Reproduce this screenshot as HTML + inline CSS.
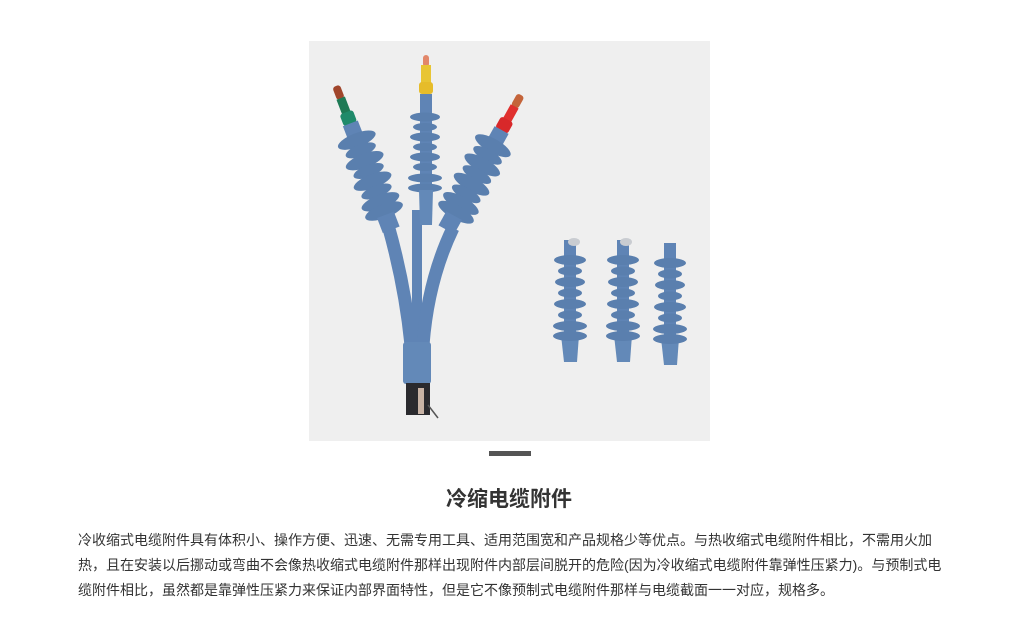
<!DOCTYPE html>
<html><head><meta charset="utf-8"><style>
html,body{margin:0;padding:0;background:#fff;width:1018px;height:639px;overflow:hidden;position:relative;font-family:"Liberation Sans","Noto Sans CJK SC",sans-serif;}
#img{position:absolute;left:309px;top:41px;width:401px;height:400px;background:#efefef;}
#bar{position:absolute;left:489px;top:451px;width:42px;height:5px;background:#555;}
h1{position:absolute;left:0;width:1018px;top:485px;margin:0;text-align:center;font-size:21px;font-weight:bold;color:#333;line-height:30px;}
p{position:absolute;left:78px;top:528px;margin:0;font-size:14px;line-height:25px;color:#333;white-space:nowrap;}
</style></head><body>
<div id="img"></div>
<svg width="1018" height="639" style="position:absolute;left:0;top:0">
<defs>
<g id="smallins">
  <rect x="-6" y="0" width="12" height="100" fill="#5f84b5"/>
  <path d="M-9,95 L9,95 L7,122 L-6,122 Z" fill="#6389b8"/>
  <ellipse cx="0" cy="20" rx="16" ry="5" fill="#5a7fae"/>
  <ellipse cx="0" cy="31" rx="12" ry="4.5" fill="#5a7fae"/>
  <ellipse cx="0" cy="42" rx="15" ry="5" fill="#5a7fae"/>
  <ellipse cx="0" cy="53" rx="12" ry="4.5" fill="#5a7fae"/>
  <ellipse cx="0" cy="64" rx="16" ry="5" fill="#5a7fae"/>
  <ellipse cx="0" cy="75" rx="12" ry="4.5" fill="#5a7fae"/>
  <ellipse cx="0" cy="86" rx="17" ry="5" fill="#5a7fae"/>
  <ellipse cx="0" cy="96" rx="17" ry="5" fill="#5a7fae"/>
</g>
<g id="ridges">
  <rect x="-8" y="40" width="16" height="110" fill="#5f84b5"/>
  <ellipse cx="0" cy="58" rx="20" ry="7" fill="#5a7fae"/>
  <ellipse cx="0" cy="69" rx="16" ry="6" fill="#5a7fae"/>
  <ellipse cx="0" cy="80" rx="20" ry="7" fill="#5a7fae"/>
  <ellipse cx="0" cy="91" rx="16" ry="6" fill="#5a7fae"/>
  <ellipse cx="0" cy="102" rx="20" ry="7" fill="#5a7fae"/>
  <ellipse cx="0" cy="113" rx="16" ry="6" fill="#5a7fae"/>
  <ellipse cx="0" cy="124" rx="20" ry="7" fill="#5a7fae"/>
  <ellipse cx="0" cy="134" rx="20" ry="7" fill="#5a7fae"/>
  <rect x="-9" y="138" width="18" height="16" fill="#5f84b5"/>
</g>
</defs>
<!-- tubes -->
<path d="M388,225 Q405,285 411,345" stroke="#5f84b5" stroke-width="13" fill="none"/>
<path d="M417,210 L417,345" stroke="#5f84b5" stroke-width="10" fill="none"/>
<path d="M453,228 Q428,280 423,345" stroke="#5f84b5" stroke-width="13" fill="none"/>
<!-- left arm -->
<g transform="translate(336,86) rotate(-21)">
  <rect x="-4" y="0" width="8" height="14" rx="3" fill="#a0452b"/>
  <rect x="-4.5" y="13" width="9" height="20" fill="#1e7a55"/>
  <rect x="-7" y="28" width="14" height="13" rx="3" fill="#1f8a6a"/>
  <use href="#ridges"/>
</g>
<!-- middle arm -->
<g transform="translate(426,55)">
  <rect x="-3" y="0" width="6" height="12" rx="3" fill="#e2876a"/>
  <rect x="-5" y="10" width="10" height="20" fill="#e8c534"/>
  <rect x="-7" y="27" width="14" height="12" rx="3" fill="#e6bc2a"/>
  <rect x="-6" y="39" width="12" height="130" fill="#5f84b5"/>
  <ellipse cx="-1" cy="62" rx="15" ry="4.5" fill="#5a7fae"/>
  <ellipse cx="-1" cy="72" rx="12" ry="4" fill="#5a7fae"/>
  <ellipse cx="-1" cy="82" rx="15" ry="4.5" fill="#5a7fae"/>
  <ellipse cx="-1" cy="92" rx="12" ry="4" fill="#5a7fae"/>
  <ellipse cx="-1" cy="102" rx="15" ry="4.5" fill="#5a7fae"/>
  <ellipse cx="-1" cy="112" rx="12" ry="4" fill="#5a7fae"/>
  <ellipse cx="-1" cy="123" rx="17" ry="4.5" fill="#5a7fae"/>
  <ellipse cx="-1" cy="133" rx="17" ry="4.5" fill="#5a7fae"/>
  <path d="M-7,135 L7,135 L6,170 L-6,170 Z" fill="#6389b8"/>
</g>
<!-- right arm -->
<g transform="translate(521,95) rotate(29)">
  <rect x="-4" y="0" width="8" height="14" rx="3" fill="#c4643a"/>
  <rect x="-4.5" y="13" width="9" height="20" fill="#e0302e"/>
  <rect x="-7" y="28" width="14" height="13" rx="3" fill="#d8282a"/>
  <use href="#ridges"/>
</g>
<!-- boot & cable -->
<rect x="403" y="342" width="28" height="42" rx="3" fill="#6389b8"/>
<rect x="406" y="383" width="24" height="32" fill="#2a2a2e"/>
<rect x="418" y="388" width="6" height="26" fill="#c8b3a5"/>
<line x1="428" y1="405" x2="438" y2="418" stroke="#555" stroke-width="1.5"/>
<!-- small insulators -->
<use href="#smallins" transform="translate(570,240)"/>
<use href="#smallins" transform="translate(623,240)"/>
<use href="#smallins" transform="translate(670,243)"/>
<ellipse cx="574" cy="242" rx="6" ry="4" fill="#c9ccd1"/>
<ellipse cx="626" cy="242" rx="6" ry="4" fill="#c9ccd1"/>
</svg>
<div id="bar"></div>
<h1>冷缩电缆附件</h1>
<p>冷收缩式电缆附件具有体积小、操作方便、迅速、无需专用工具、适用范围宽和产品规格少等优点。与热收缩式电缆附件相比，不需用火加<br>热，且在安装以后挪动或弯曲不会像热收缩式电缆附件那样出现附件内部层间脱开的危险(因为冷收缩式电缆附件靠弹性压紧力)。与预制式电<br>缆附件相比，虽然都是靠弹性压紧力来保证内部界面特性，但是它不像预制式电缆附件那样与电缆截面一一对应，规格多。</p>
</body></html>
